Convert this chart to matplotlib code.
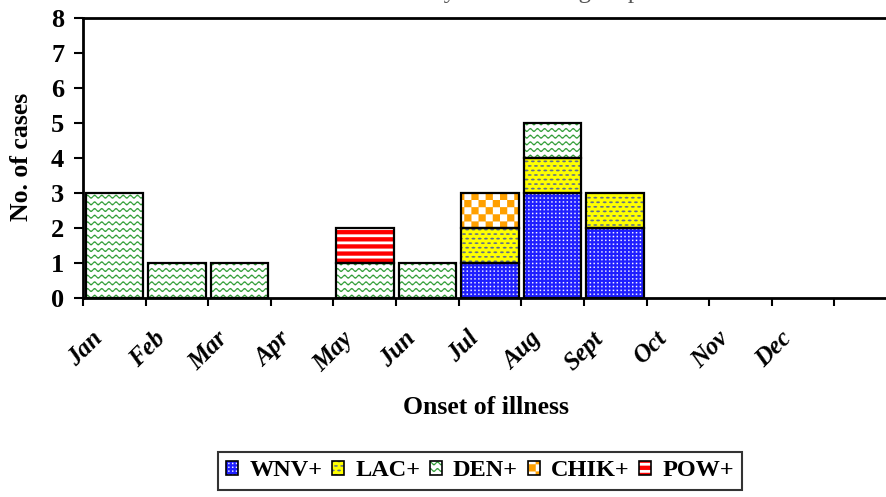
import warnings
import numpy as np
import matplotlib
matplotlib.use("Agg")
import matplotlib.pyplot as plt
import matplotlib.hatch as mhatch
from matplotlib.path import Path
from matplotlib.patches import Patch
from matplotlib.legend_handler import HandlerTuple
from matplotlib.transforms import ScaledTranslation

warnings.filterwarnings("ignore")

# ---- data -------------------------------------------------------------
months = ["Jan", "Feb", "Mar", "Apr", "May", "Jun", "Jul", "Aug", "Sept",
          "Oct", "Nov", "Dec", ""]
wnv = [0, 0, 0, 0, 0, 0, 1, 3, 2, 0, 0, 0, 0]
lac = [0, 0, 0, 0, 0, 0, 1, 1, 1, 0, 0, 0, 0]
den = [3, 1, 1, 0, 1, 1, 0, 1, 0, 0, 0, 0, 0]
chik = [0, 0, 0, 0, 0, 0, 1, 0, 0, 0, 0, 0, 0]
pow_ = [0, 0, 0, 0, 1, 0, 0, 0, 0, 0, 0, 0, 0]
series_names = ["WNV+", "LAC+", "DEN+", "CHIK+", "POW+"]
y_ticks = [0, 1, 2, 3, 4, 5, 6, 7, 8]


# ---- fill patterns (unit tile, repeated every inch) -------------------
class _PolyHatch(mhatch.HatchPatternBase):
    key = None

    def __init__(self, hatch, density):
        self.polys = self.make_polys() if (hatch and self.key in hatch) else []
        self.num_vertices = sum(len(p) + 1 for p in self.polys)

    def make_polys(self):
        return []

    def set_vertices_and_codes(self, vertices, codes):
        i = 0
        for p in self.polys:
            n = len(p)
            vertices[i:i + n] = p
            vertices[i + n] = p[0]
            codes[i] = Path.MOVETO
            codes[i + 1:i + n] = Path.LINETO
            codes[i + n] = Path.CLOSEPOLY
            i += n + 1


def _rect(x0, y0, w, h):
    return np.array([[x0, y0], [x0 + w, y0], [x0 + w, y0 + h], [x0, y0 + h]])


class WaveHatch(_PolyHatch):
    key = "~"

    def make_polys(self):
        rows, periods, amp, thick = 15, 14, 0.013, 0.014
        xs = np.linspace(0, 1, periods * 16 + 1)
        polys = []
        for r in range(rows):
            y0 = (r + 0.5) / rows
            yc = y0 + amp * np.sin(2 * np.pi * periods * xs)
            top = np.column_stack([xs, yc + thick / 2])
            bot = np.column_stack([xs[::-1], (yc - thick / 2)[::-1]])
            polys.append(np.vstack([top, bot]))
        return polys


class CheckerHatch(_PolyHatch):
    key = "#"

    def make_polys(self):
        n = 14
        s = 1.0 / n
        return [_rect(i * s, j * s, s, s)
                for i in range(n) for j in range(n) if (i + j) % 2 == 0]


class DashHatch(_PolyHatch):
    key = ":"

    def make_polys(self):
        rows, cols, w, h = 22, 16, 0.038, 0.017
        t = np.linspace(0, 2 * np.pi, 10, endpoint=False)
        ell = np.column_stack([w / 2 * np.cos(t), h / 2 * np.sin(t)])
        polys = []
        for r in range(rows):
            shift = 0.5 if r % 2 else 0.0
            for c in range(cols):
                cx = ((c + shift + 0.25) / cols) % 1.0
                cy = (r + 0.5) / rows
                cx = min(max(cx, w / 2), 1 - w / 2)
                polys.append(ell + [cx, cy])
        return polys


class DotHatch(_PolyHatch):
    key = ";"

    def make_polys(self):
        n, d = 26, 0.013
        s = 1.0 / n
        return [_rect(i * s + s / 2 - d / 2, j * s + s / 2 - d / 2, d, d)
                for i in range(n) for j in range(n)]


class StripeHatch(_PolyHatch):
    key = "_"

    def make_polys(self):
        n, h = 14, 0.042
        return [_rect(0, (j + 0.5) / n - h / 2, 1, h) for j in range(n)]


mhatch._hatch_types.extend([WaveHatch, CheckerHatch, DashHatch, DotHatch,
                            StripeHatch])

plt.rcParams["font.family"] = ["Liberation Serif", "DejaVu Serif"]
plt.rcParams["font.weight"] = "bold"
plt.rcParams["hatch.linewidth"] = 0.1

# background colour, pattern colour, pattern key
styles = [
    ("#1f1fff", "white", ";"),     # WNV+
    ("#ffff00", "#5f6f8c", ":"),   # LAC+
    ("white", "#2a9a30", "~"),     # DEN+
    ("white", "#ffa000", "#"),     # CHIK+
    ("white", "#ff0000", "_"),     # POW+
]
values = [wnv, lac, den, chik, pow_]

# ---- figure -------------------------------------------------------------
W, H, DPI = 887, 497, 100
fig = plt.figure(figsize=(W / DPI, H / DPI), dpi=DPI)
ax = fig.add_axes([83 / W, (H - 298) / H, 814 / W, 280 / H])

x = np.arange(len(months))
bar_w = 0.92
bottom = np.zeros(len(months))
for vals, (bg, fg, key) in zip(values, styles):
    v = np.array(vals, dtype=float)
    m = v > 0
    ax.bar(x[m], v[m], bar_w, bottom=bottom[m], color=bg, edgecolor="none",
           linewidth=0, zorder=2)
    ax.bar(x[m], v[m], bar_w, bottom=bottom[m], color="none", edgecolor=fg,
           hatch=key, linewidth=0, zorder=2.5)
    ax.bar(x[m], v[m], bar_w, bottom=bottom[m], fill=False, edgecolor="black",
           linewidth=1.6, zorder=3)
    bottom += v

ax.set_xlim(-0.5, len(months) - 0.5)
ax.set_ylim(0, 8)

for s in ax.spines.values():
    s.set_linewidth(2.0)
    s.set_color("black")

ax.set_yticks(y_ticks)
ax.set_yticklabels([str(t) for t in y_ticks], fontsize=19, fontweight="bold")
ax.tick_params(axis="y", direction="out", length=6.5, width=1.5, pad=7)

# tick marks on category boundaries, labels at category centres
ax.set_xticks(np.arange(len(months) + 1) - 0.5)
ax.set_xticklabels([])
ax.tick_params(axis="x", which="major", direction="out", length=5.8, width=1.5)
ax.set_xticks(x, minor=True)
ax.set_xticklabels(months, minor=True, rotation=45, ha="right", va="top",
                   fontsize=18, fontweight="bold", fontstyle="italic")
ax.tick_params(axis="x", which="minor", length=0, pad=21)
shift = ScaledTranslation(-7 / DPI, 0, fig.dpi_scale_trans)
for lab in ax.get_xticklabels(minor=True):
    lab.set_transform(lab.get_transform() + shift)

fig.text(22 / W, 1 - 157 / H, "No. of cases", rotation=90, ha="center",
         va="center", fontsize=18.5, fontweight="bold")
fig.text(486 / W, 1 - 407 / H, "Onset of illness", ha="center", va="center",
         fontsize=18.5, fontweight="bold")
fig.text(440 / W, 1 + 1.8 / H,
         "Number of cases of arboviral illness by infectious agent per month of onset",
         ha="center", va="baseline", fontsize=18, fontweight="normal",
         color="#555555")

# legend: background, pattern and outline stacked in each key
handles = []
for bg, fg, key in styles:
    handles.append((
        Patch(facecolor=bg, edgecolor="none", linewidth=0),
        Patch(facecolor="none", edgecolor=fg, hatch=key, linewidth=0),
        Patch(facecolor="none", edgecolor="black", linewidth=1.2),
    ))
leg = fig.legend(handles, series_names, ncol=5, loc="center",
                 bbox_to_anchor=(480 / W, 1 - 471 / H),
                 handler_map={tuple: HandlerTuple(ndivide=1, pad=0)},
                 prop={"family": "Liberation Serif", "weight": "bold", "size": 17.5},
                 handlelength=0.5, handleheight=0.5, handletextpad=0.45,
                 columnspacing=0.4, borderpad=0.35, fancybox=False,
                 frameon=True, borderaxespad=0)
leg.get_frame().set_edgecolor("black")
leg.get_frame().set_linewidth(1.5)

fig.savefig("out.png", dpi=DPI)
